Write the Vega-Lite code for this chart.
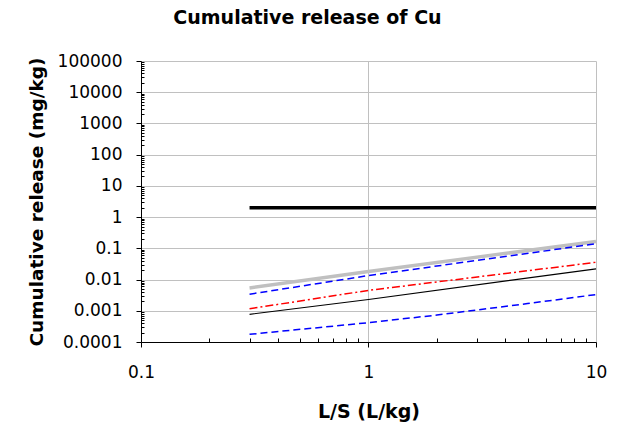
{
  "$schema": "https://vega.github.io/schema/vega-lite/v6.json",
  "width": 455,
  "height": 281,
  "autosize": "none",
  "padding": {"left": 141, "top": 61, "right": 26, "bottom": 83},
  "background": "white",
  "config": {"view": {"stroke": null}, "font": "DejaVu Sans"},
  "title": {"text": "Cumulative release of Cu", "fontSize": 19, "fontWeight": "bold", "font": "DejaVu Sans", "anchor": "middle", "frame": "group", "dx": -61, "offset": 24, "color": "black"},
  "data": {"values": [
    {"series": "S1", "LS": 0.3, "release": 0.0054},
    {"series": "S1", "LS": 1, "release": 0.018},
    {"series": "S1", "LS": 10, "release": 0.166},
    {"series": "S2", "LS": 0.3, "release": 2},
    {"series": "S2", "LS": 10, "release": 2},
    {"series": "S3", "LS": 0.3, "release": 0.0034},
    {"series": "S3", "LS": 1, "release": 0.0134},
    {"series": "S3", "LS": 10, "release": 0.14},
    {"series": "S4", "LS": 0.3, "release": 0.00116},
    {"series": "S4", "LS": 1, "release": 0.0045},
    {"series": "S4", "LS": 10, "release": 0.0357},
    {"series": "S5", "LS": 0.3, "release": 0.00077},
    {"series": "S5", "LS": 1, "release": 0.0023},
    {"series": "S5", "LS": 10, "release": 0.022},
    {"series": "S6", "LS": 0.3, "release": 0.000176},
    {"series": "S6", "LS": 1, "release": 0.000416},
    {"series": "S6", "LS": 2, "release": 0.00073},
    {"series": "S6", "LS": 5, "release": 0.0017},
    {"series": "S6", "LS": 10, "release": 0.0033}
  ]},
  "encoding": {
    "x": {
      "field": "LS", "type": "quantitative",
      "scale": {"type": "log", "domain": [0.1, 10], "nice": false},
      "axis": {
        "title": "L/S (L/kg)", "titleFontSize": 19, "titleFontWeight": "bold", "titleColor": "black", "titlePadding": 22,
        "values": [0.1, 0.2, 0.3, 0.4, 0.5, 0.6, 0.7, 0.8, 0.9, 1, 2, 3, 4, 5, 6, 7, 8, 9, 10],
        "labelExpr": "abs(log(datum.value)/LN10 - round(log(datum.value)/LN10)) < 0.001 ? datum.value + '' : ''",
        "labelFontSize": 17, "labelColor": "black", "labelPadding": 17, "labelFlush": false, "labelOverlap": false,
        "domainColor": "black", "domainWidth": 1, "tickColor": "black", "tickWidth": 1,
        "tickSize": {"condition": {"test": "abs(log(datum.value)/LN10 - round(log(datum.value)/LN10)) < 0.001", "value": 5}, "value": -4},
        "grid": true, "gridColor": "#c0c0c0", "gridWidth": 1,
        "gridOpacity": {"condition": {"test": "abs(log(datum.value)/LN10 - round(log(datum.value)/LN10)) < 0.001", "value": 1}, "value": 0}
      }
    },
    "y": {
      "field": "release", "type": "quantitative",
      "scale": {"type": "log", "domain": [0.0001, 100000], "nice": false},
      "axis": {
        "title": "Cumulative release (mg/kg)", "titleFontSize": 18.5, "titleFontWeight": "bold", "titleColor": "black", "titlePadding": 11,
        "values": [0.0001, 0.0002, 0.0003, 0.0004, 0.0005, 0.0006, 0.0007, 0.0008, 0.0009,
                   0.001, 0.002, 0.003, 0.004, 0.005, 0.006, 0.007, 0.008, 0.009,
                   0.01, 0.02, 0.03, 0.04, 0.05, 0.06, 0.07, 0.08, 0.09,
                   0.1, 0.2, 0.3, 0.4, 0.5, 0.6, 0.7, 0.8, 0.9,
                   1, 2, 3, 4, 5, 6, 7, 8, 9,
                   10, 20, 30, 40, 50, 60, 70, 80, 90,
                   100, 200, 300, 400, 500, 600, 700, 800, 900,
                   1000, 2000, 3000, 4000, 5000, 6000, 7000, 8000, 9000,
                   10000, 20000, 30000, 40000, 50000, 60000, 70000, 80000, 90000, 100000],
        "labelExpr": "abs(log(datum.value)/LN10 - round(log(datum.value)/LN10)) < 0.001 ? datum.value + '' : ''",
        "labelFontSize": 17, "labelColor": "black", "labelPadding": 14, "labelFlush": false, "labelOverlap": false,
        "domainColor": "black", "domainWidth": 1, "tickColor": "black", "tickWidth": 1,
        "tickSize": {"condition": {"test": "abs(log(datum.value)/LN10 - round(log(datum.value)/LN10)) < 0.001", "value": 5}, "value": -3},
        "grid": true, "gridColor": "#c0c0c0", "gridWidth": 1,
        "gridOpacity": {"condition": {"test": "abs(log(datum.value)/LN10 - round(log(datum.value)/LN10)) < 0.001", "value": 1}, "value": 0}
      }
    }
  },
  "layer": [
    {"transform": [{"filter": "datum.series == 'S1'"}], "mark": {"type": "line", "color": "#c0c0c0", "strokeWidth": 3.5}},
    {"transform": [{"filter": "datum.series == 'S2'"}], "mark": {"type": "line", "color": "black", "strokeWidth": 3.5}},
    {"transform": [{"filter": "datum.series == 'S3'"}], "mark": {"type": "line", "color": "#0000ff", "strokeWidth": 1.5, "strokeDash": [7, 4]}},
    {"transform": [{"filter": "datum.series == 'S4'"}], "mark": {"type": "line", "color": "#ff0000", "strokeWidth": 1.5, "strokeDash": [8, 3, 2, 3]}},
    {"transform": [{"filter": "datum.series == 'S5'"}], "mark": {"type": "line", "color": "black", "strokeWidth": 1.2}},
    {"transform": [{"filter": "datum.series == 'S6'"}], "mark": {"type": "line", "color": "#0000ff", "strokeWidth": 1.5, "strokeDash": [7, 4]}}
  ]
}
